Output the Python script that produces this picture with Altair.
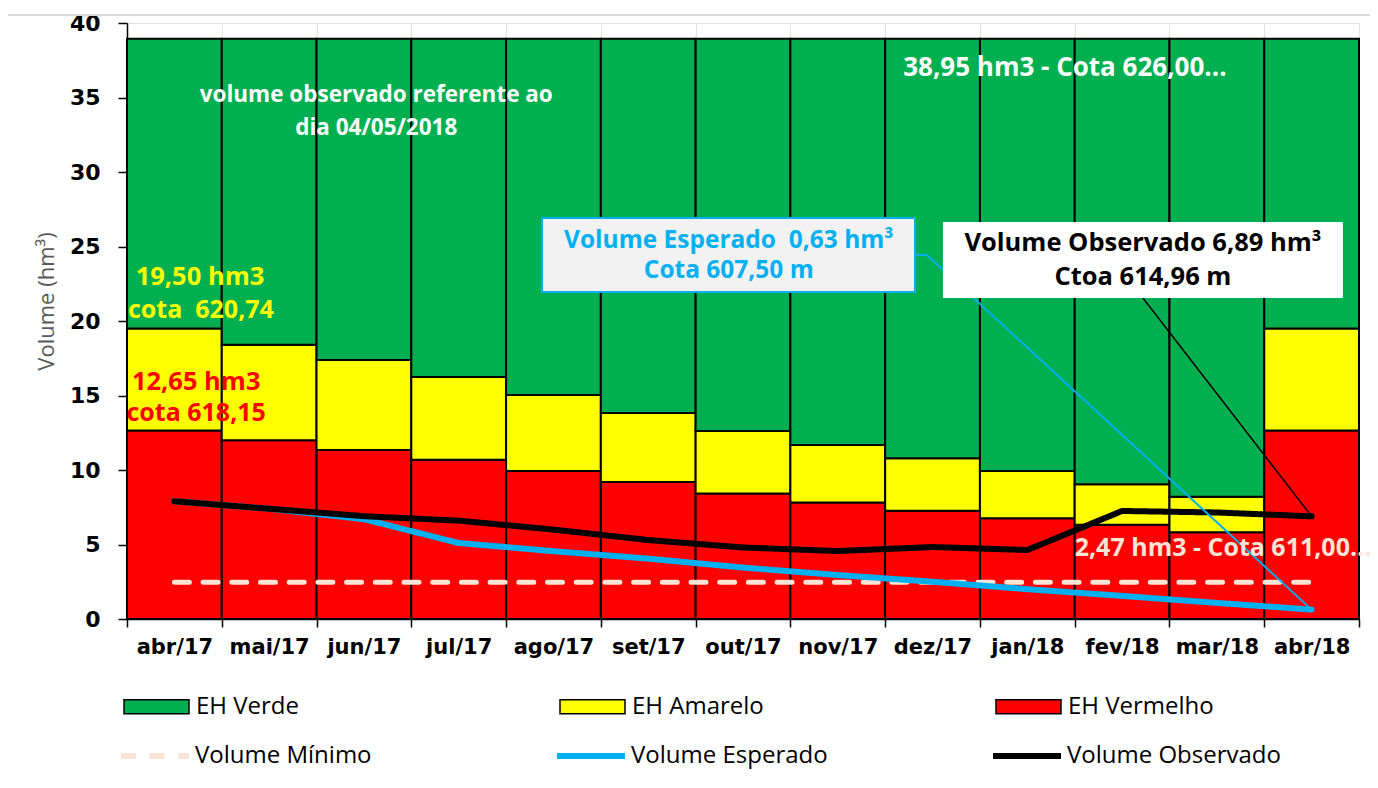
import altair as alt
import pandas as pd

# ---------------- data ----------------
meses = ["abr/17", "mai/17", "jun/17", "jul/17", "ago/17", "set/17", "out/17",
         "nov/17", "dez/17", "jan/18", "fev/18", "mar/18", "abr/18"]
eh_vermelho_topo = [12.65, 12.0, 11.35, 10.68, 9.93, 9.19, 8.42, 7.82, 7.27, 6.77, 6.33, 5.83, 12.65]
eh_amarelo_topo = [19.5, 18.4, 17.38, 16.24, 15.03, 13.83, 12.62, 11.68, 10.79, 9.93, 9.05, 8.2, 19.5]
eh_verde_topo = [38.95, 38.95, 38.95, 38.95, 38.95, 38.95, 38.95, 38.95, 38.95, 38.95, 38.95, 38.95, 38.95]
vol_minimo = [2.47, 2.47, 2.47, 2.47, 2.47, 2.47, 2.47, 2.47, 2.47, 2.47, 2.47, 2.47, 2.47]
vol_esperado = [7.9, 7.4, 6.7, 5.1, 4.55, 4.05, 3.45, 2.95, 2.5, 2.0, 1.55, 1.08, 0.63]
vol_observado = [7.9, 7.4, 6.9, 6.6, 6.0, 5.3, 4.8, 4.56, 4.83, 4.63, 7.25, 7.15, 6.89]

estados = ["EH Verde", "EH Amarelo", "EH Vermelho"]
cores_estados = ["#00B050", "#FFFF00", "#FF0000"]
series = ["Volume Mínimo", "Volume Esperado", "Volume Observado"]
cores_series = ["#FCE4D6", "#00B0F0", "#000000"]

NB = "\u00a0"

# ---------------- tables ----------------
rows = []
for i, m in enumerate(meses):
    rows.append({"mes": m, "estado": "EH Vermelho", "y0": 0.0, "y1": eh_vermelho_topo[i]})
    rows.append({"mes": m, "estado": "EH Amarelo", "y0": eh_vermelho_topo[i], "y1": eh_amarelo_topo[i]})
    rows.append({"mes": m, "estado": "EH Verde", "y0": eh_amarelo_topo[i], "y1": eh_verde_topo[i]})
barras_df = pd.DataFrame(rows)

lrows = []
for nome, vals in zip(series, [vol_minimo, vol_esperado, vol_observado]):
    for m, v in zip(meses, vals):
        lrows.append({"mes": m, "serie": nome, "valor": v})
linhas_df = pd.DataFrame(lrows)

YT = "Volume (hm³)"
yscale = alt.Scale(domain=[0, 40], nice=False, zero=True)
xband = alt.Scale(domain=meses, paddingInner=0, paddingOuter=0)

x_axis = alt.Axis(title=None, labelFont="DejaVu Sans", labelFontWeight="bold", labelFontSize=21,
                  labelColor="black", labelAngle=0, labelPadding=9, tickBand="extent",
                  tickSize=8, tickColor="black", tickWidth=1.5, domainColor="black",
                  domainWidth=1.5, grid=True, gridColor="#E3E3E3", gridWidth=1)
y_axis = alt.Axis(title=YT, values=list(range(0, 41, 5)), labelFont="DejaVu Sans",
                  labelFontWeight="bold", labelFontSize=22, labelColor="black",
                  labelPadding=18, tickSize=9, tickColor="black", tickWidth=1.5,
                  domainColor="black", domainWidth=1.5, grid=True, gridColor="#E3E3E3",
                  titleFont="Open Sans", titleFontSize=22, titleFontWeight="normal",
                  titleColor="#595959", titlePadding=11, titleY=278)

fill_legend = alt.Legend(orient="none", legendX=-4, legendY=650, direction="horizontal",
                         columns=3, title=None, symbolType="M-1,-0.215H1V0.215H-1Z",
                         symbolSize=4225, symbolStrokeColor="black", symbolStrokeWidth=1.5,
                         symbolOpacity=1, labelFont="Open Sans", labelFontSize=24,
                         labelColor="black", labelOffset=6, labelLimit=400,
                         columnPadding=215, gridAlign="all")
line_legend = alt.Legend(orient="none", legendX=-9, legendY=696, direction="horizontal",
                         columns=3, title=None, symbolType="stroke", symbolSize=4624,
                         symbolStrokeWidth=6, labelFont="Open Sans", labelFontSize=24,
                         labelColor="black", labelOffset=3, labelLimit=400,
                         columnPadding=136, gridAlign="all")

barras = alt.Chart(barras_df).mark_bar(stroke="black", strokeWidth=2, opacity=1).encode(
    x=alt.X("mes:N", sort=meses, scale=xband, axis=x_axis),
    y=alt.Y("y1:Q", scale=yscale, axis=y_axis),
    y2="y0:Q",
    fill=alt.Fill("estado:N", scale=alt.Scale(domain=estados, range=cores_estados),
                  legend=fill_legend),
)

def linha(nome, largura):
    return alt.Chart(linhas_df).transform_filter(alt.datum.serie == nome).mark_line(
        strokeWidth=largura, strokeCap="round", strokeJoin="round").encode(
        x=alt.X("mes:N", sort=meses, scale=xband),
        y=alt.Y("valor:Q", scale=yscale, title=YT),
        stroke=alt.Stroke("serie:N", scale=alt.Scale(domain=series, range=cores_series),
                          legend=line_legend),
        strokeDash=alt.StrokeDash("serie:N", scale=alt.Scale(domain=series,
                                  range=[[15, 13.7], [1, 0], [1, 0]]), legend=line_legend),
    )

principal = alt.layer(barras, linha("Volume Mínimo", 5), linha("Volume Esperado", 6),
                      linha("Volume Observado", 6))

# ---------------- annotations ----------------
xq = alt.Scale(domain=[-0.5, 12.5], nice=False, zero=False)

def texto(txt, x, y, color, size=24, align="center"):
    df = pd.DataFrame({"x": [x], "y": [y], "t": [txt]})
    return alt.Chart(df).mark_text(align=align, baseline="middle", font="Open Sans",
                                   fontSize=size, fontWeight="bold", color=color).encode(
        x=alt.X("x:Q", scale=xq, axis=None),
        y=alt.Y("y:Q", scale=yscale, title=YT),
        text="t:N")

def caixa(x0, x1, y0, y1, fill, stroke):
    df = pd.DataFrame({"x0": [x0], "x1": [x1], "y0": [y0], "y1": [y1]})
    kw = dict(fill=fill)
    if stroke:
        kw.update(stroke=stroke, strokeWidth=2)
    return alt.Chart(df).mark_rect(**kw).encode(
        x=alt.X("x0:Q", scale=xq, axis=None), x2="x1:Q",
        y=alt.Y("y0:Q", scale=yscale, title=YT), y2="y1:Q")

def guia(xs, ys, color, w=1.5):
    df = pd.DataFrame({"x": xs, "y": ys, "o": list(range(len(xs)))})
    return alt.Chart(df).mark_line(color=color, strokeWidth=w).encode(
        x=alt.X("x:Q", scale=xq, axis=None),
        y=alt.Y("y:Q", scale=yscale, title=YT),
        order="o:Q")

moldura = alt.Chart(pd.DataFrame({"k": [0]})).mark_rule(color="#D9D9D9", strokeWidth=2).encode(
    x=alt.value(-124), x2=alt.value(1245), y=alt.value(-8))

anot = alt.layer(
    moldura,
    guia([7.815, 7.94, 12.0], [24.43, 24.43, 0.63], "#00B0F0", 2),
    guia([10.22, 12.0], [21.54, 6.89], "#000000", 1.5),
    caixa(3.88, 7.815, 21.95, 26.91, "#F2F2F2", "#00B0F0"),
    caixa(8.11, 12.33, 21.54, 26.64, "#FFFFFF", None),
    texto("volume observado referente ao", 2.13, 35.17, "white", 22.5),
    texto("dia 04/05/2018", 2.13, 32.95, "white", 22.5),
    texto("38,95 hm3 - Cota 626,00...", 7.69, 36.98, "white", 26, "left"),
    texto("19,50 hm3", 0.27, 22.95, "#FFFF00", 25.5),
    texto("cota" + NB + NB + "620,74", 0.28, 20.74, "#FFFF00", 25),
    texto("12,65 hm3", 0.23, 15.9, "#FF0000", 25.5),
    texto("cota 618,15", 0.23, 13.83, "#FF0000", 25),
    texto("2,47 hm3 - Cota 611,00...", 9.5, 4.77, "#FCE4D6", 25, "left"),
    texto("Volume Esperado" + NB + NB + "0,63 hm³", 5.85, 25.37, "#00B0F0", 24.5),
    texto("Cota 607,50 m", 5.85, 23.36, "#00B0F0", 24.5),
    texto("Volume Observado 6,89 hm³", 10.22, 25.23, "#000000", 25.5),
    texto("Ctoa 614,96 m", 10.22, 22.95, "#000000", 25.5),
)

chart = alt.layer(principal, anot).resolve_scale(x="independent").properties(
    width=1232, height=596,
    autosize=alt.AutoSizeParams(type="none"),
    padding={"left": 119, "top": 15, "right": 11, "bottom": 161},
).configure_view(stroke=None).configure(font="Open Sans")

chart.save("out.html", embed_options={"renderer": "svg", "actions": False})
